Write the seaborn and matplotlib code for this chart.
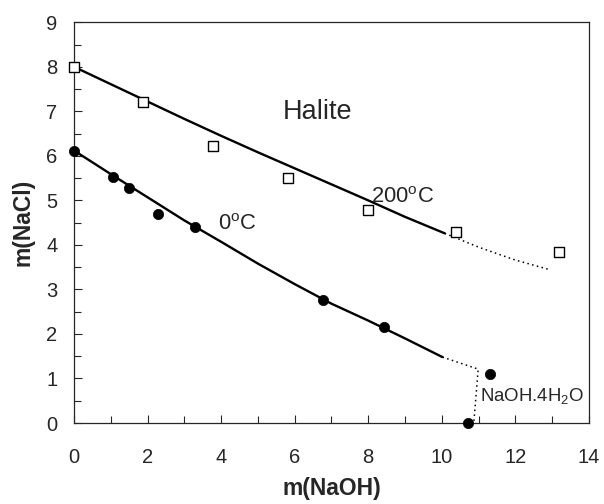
import matplotlib
matplotlib.use("Agg")
import matplotlib.pyplot as plt
import seaborn as sns
import pandas as pd
from matplotlib.ticker import MultipleLocator

# Measured solubility points
naoh_200 = [0.0, 1.87, 3.79, 5.82, 8.0, 10.4, 13.19]
nacl_200 = [8.0, 7.20, 6.22, 5.50, 4.79, 4.29, 3.83]

naoh_0 = [0.0, 1.07, 1.50, 2.29, 3.29, 6.76, 8.42, 11.3, 10.71]
nacl_0 = [6.12, 5.53, 5.28, 4.69, 4.40, 2.76, 2.15, 1.11, 0.0]

# Model curves (halite saturation)
fit200_x = [0, 1, 2, 3, 4, 5, 6, 7, 8, 9, 10.08]
fit200_y = [8.0, 7.61, 7.22, 6.83, 6.45, 6.08, 5.72, 5.36, 5.0, 4.63, 4.26]
ext200_x = [10.08, 11, 12, 12.95]
ext200_y = [4.26, 3.95, 3.66, 3.44]

fit0_x = [0, 1, 2, 3, 4, 5, 6, 7, 8, 9, 10.02]
fit0_y = [6.12, 5.59, 5.07, 4.55, 4.07, 3.58, 3.12, 2.68, 2.30, 1.90, 1.48]
ext0_x = [10.02, 10.99, 10.87]
ext0_y = [1.48, 1.21, 0.0]

sns.set_style("ticks")
plt.rcParams["font.family"] = ["Liberation Sans", "DejaVu Sans"]
plt.rcParams["mathtext.fontset"] = "custom"
plt.rcParams["mathtext.rm"] = "Liberation Sans"
plt.rcParams["mathtext.it"] = "Liberation Sans:italic"
plt.rcParams["mathtext.bf"] = "Liberation Sans:bold"

fig = plt.figure(figsize=(6.04, 5.04), dpi=100)
ax = fig.add_axes([0.1225, 0.1607, 0.8525, 0.7951])

sns.lineplot(x=fit200_x, y=fit200_y, ax=ax, color="black", lw=1.7, sort=False)
sns.lineplot(x=ext200_x, y=ext200_y, ax=ax, color="black", lw=1.1,
             linestyle=(0, (1, 2.2)), sort=False)
sns.lineplot(x=fit0_x, y=fit0_y, ax=ax, color="black", lw=1.7, sort=False)
sns.lineplot(x=ext0_x, y=ext0_y, ax=ax, color="black", lw=1.1,
             linestyle=(0, (1, 2.2)), sort=False)

pts200 = pd.DataFrame({"x": naoh_200, "y": nacl_200})
pts0 = pd.DataFrame({"x": naoh_0, "y": nacl_0})
sns.scatterplot(data=pts200, x="x", y="y", ax=ax, marker="s", s=45,
                facecolor="white", edgecolor="black", linewidth=1.0,
                zorder=5, clip_on=False)
sns.scatterplot(data=pts0, x="x", y="y", ax=ax, marker="o", s=55,
                color="black", edgecolor="black", linewidth=0.5,
                zorder=5, clip_on=False)

ax.text(6.63, 6.99, "Halite", fontsize=19.5, ha="center", va="center")
ax.text(8.08, 4.94, r"200$^{\rm o}$C", fontsize=15.8, ha="left", va="baseline")
ax.text(3.92, 4.34, r"0$^{\rm o}$C", fontsize=15.8, ha="left", va="baseline")
ax.text(11.03, 0.49, r"NaOH.4H$_2$O", fontsize=13.4, ha="left", va="baseline")

ax.set_xlim(0, 14)
ax.set_ylim(0, 9)
ax.xaxis.set_major_locator(MultipleLocator(2))
ax.xaxis.set_minor_locator(MultipleLocator(1))
ax.yaxis.set_major_locator(MultipleLocator(1))
ax.yaxis.set_minor_locator(MultipleLocator(0.5))
ax.tick_params(which="both", direction="in", top=False, right=False,
               width=0.8, labelsize=14.5)
ax.tick_params(which="major", length=6)
ax.tick_params(which="minor", length=5)
ax.tick_params(axis="x", which="major", pad=18)
ax.tick_params(axis="y", which="major", pad=12)
for sp in ax.spines.values():
    sp.set_visible(True)
    sp.set_linewidth(0.9)

ax.set_xlabel("m(NaOH)", fontsize=16.5, fontweight="bold", labelpad=7)
ax.set_ylabel("m(NaCl)", fontsize=16.5, fontweight="bold", labelpad=8)

fig.savefig("out.png", dpi=100)
